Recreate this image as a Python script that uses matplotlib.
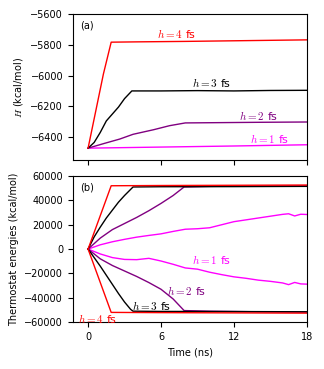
import matplotlib
matplotlib.use("Agg")
import matplotlib.pyplot as plt

plt.rcParams["font.family"] = ["DejaVu Sans"]
plt.rcParams["mathtext.fontset"] = "cm"
plt.rcParams["font.size"] = 7

# ---------------------------------------------------------------- data
steps = ["1", "2", "3", "4"]
colors = {"1": "#ff00ff", "2": "#800080", "3": "black", "4": "#ff0000"}

# (a) total pseudo-Hamiltonian H (kcal/mol) vs time (ns)
h_time = {
    "4": [0, 1.26, 1.9, 4, 8, 12, 16, 18],
    "3": [0, 0.5, 1.0, 1.5, 2.0, 2.5, 3.0, 3.6, 6, 9, 12, 15, 18],
    "2": [0, 1.3, 2.6, 3.7, 5.4, 6.7, 8.0, 11, 14, 18],
    "1": [0, 6, 12, 18],
}
h_val = {
    "4": [-6472, -5990, -5783, -5781, -5778, -5774, -5770, -5768],
    "3": [-6472, -6435, -6370, -6295, -6250, -6205, -6150, -6100, -6100, -6098, -6100, -6097, -6096],
    "2": [-6472, -6442, -6413, -6382, -6352, -6326, -6308, -6306, -6304, -6302],
    "1": [-6472, -6465, -6458, -6450],
}

# (b) thermostat energies (kcal/mol): upper and lower branches
th_time = {
    "4": [0, 1.9, 6, 12, 18],
    "3": [0, 0.5, 1.0, 1.5, 2.0, 2.5, 3.0, 3.5, 3.7, 6, 12, 18],
    "2": [0, 1, 2, 3, 4, 5, 6, 7, 7.9, 10, 14, 18],
    "1": [0, 1, 2, 3, 4, 5, 6, 7, 8, 9, 10, 11, 12, 13, 14, 15, 16, 16.5, 17, 17.5, 18],
}
th_up = {
    "4": [0, 52000, 52200, 52400, 52600],
    "3": [0, 10000, 18000, 25500, 32000, 38500, 44000, 49000, 51000, 51200, 51300, 51500],
    "2": [0, 9000, 16000, 21000, 26000, 31500, 37500, 44000, 51000, 51500, 51800, 52000],
    "1": [0, 3500, 6000, 8000, 9800, 11200, 12500, 14500, 16300, 16700, 17500,
          20000, 22500, 24000, 25500, 27000, 28500, 29000, 27200, 28600, 28400],
}
th_lo = {
    "4": [0, -52000, -52200, -52400, -52600],
    "3": [0, -7000, -14000, -21500, -29000, -36500, -43500, -49500, -51000, -51200, -51300, -51500],
    "2": [0, -8000, -13500, -18000, -22500, -27500, -33000, -41000, -50500, -51000, -51500, -51800],
    "1": [0, -4000, -7000, -8500, -8700, -7600, -9800, -12500, -15500, -16500, -19000,
          -21000, -22800, -24000, -25500, -26500, -27800, -29200, -27400, -28600, -28800],
}

# ---------------------------------------------------------------- figure
fig = plt.figure(figsize=(3.24, 3.69), dpi=100)
ax1 = fig.add_axes([0.225, 0.566, 0.722, 0.396])
ax2 = fig.add_axes([0.225, 0.127, 0.722, 0.396])

for s in steps:
    ax1.plot(h_time[s], h_val[s], color=colors[s], lw=1.0)
    ax2.plot(th_time[s], th_up[s], color=colors[s], lw=1.0)
    ax2.plot(th_time[s], th_lo[s], color=colors[s], lw=1.0)

lab = dict(ha="center", va="center", fontsize=8)

# panel (a)
ax1.set_xlim(-1.25, 18)
ax1.set_ylim(-6550, -5600)
ax1.set_yticks([-5600, -5800, -6000, -6200, -6400])
ax1.set_xticks([0, 6, 12, 18])
ax1.set_xticklabels([])
ax1.set_ylabel("$H$ (kcal/mol)")
ax1.text(0.03, 0.955, "(a)", transform=ax1.transAxes, va="top", ha="left")
ax1.text(7.3, -5725, "$h = 4$ fs", color=colors["4"], **lab)
ax1.text(10.2, -6045, "$h = 3$ fs", color=colors["3"], **lab)
ax1.text(14.0, -6260, "$h = 2$ fs", color=colors["2"], **lab)
ax1.text(14.9, -6412, "$h = 1$ fs", color=colors["1"], **lab)

# panel (b)
ax2.set_xlim(-1.25, 18)
ax2.set_ylim(-60000, 60000)
ax2.set_yticks([-60000, -40000, -20000, 0, 20000, 40000, 60000])
ax2.set_xticks([0, 6, 12, 18])
ax2.set_xlabel("Time (ns)")
ax2.set_ylabel("Thermostat energies (kcal/mol)")
ax2.text(0.03, 0.955, "(b)", transform=ax2.transAxes, va="top", ha="left")
ax2.text(10.2, -8200, "$h = 1$ fs", color=colors["1"], **lab)
ax2.text(8.1, -34300, "$h = 2$ fs", color=colors["2"], **lab)
ax2.text(5.2, -46600, "$h = 3$ fs", color=colors["3"], **lab)
ax2.text(0.8, -57000, "$h = 4$ fs", color=colors["4"], **lab)

for ax in (ax1, ax2):
    ax.tick_params(direction="out", length=3.5, width=0.8, labelsize=7)
    for sp in ax.spines.values():
        sp.set_linewidth(0.8)

fig.savefig("out.png", dpi=100)
